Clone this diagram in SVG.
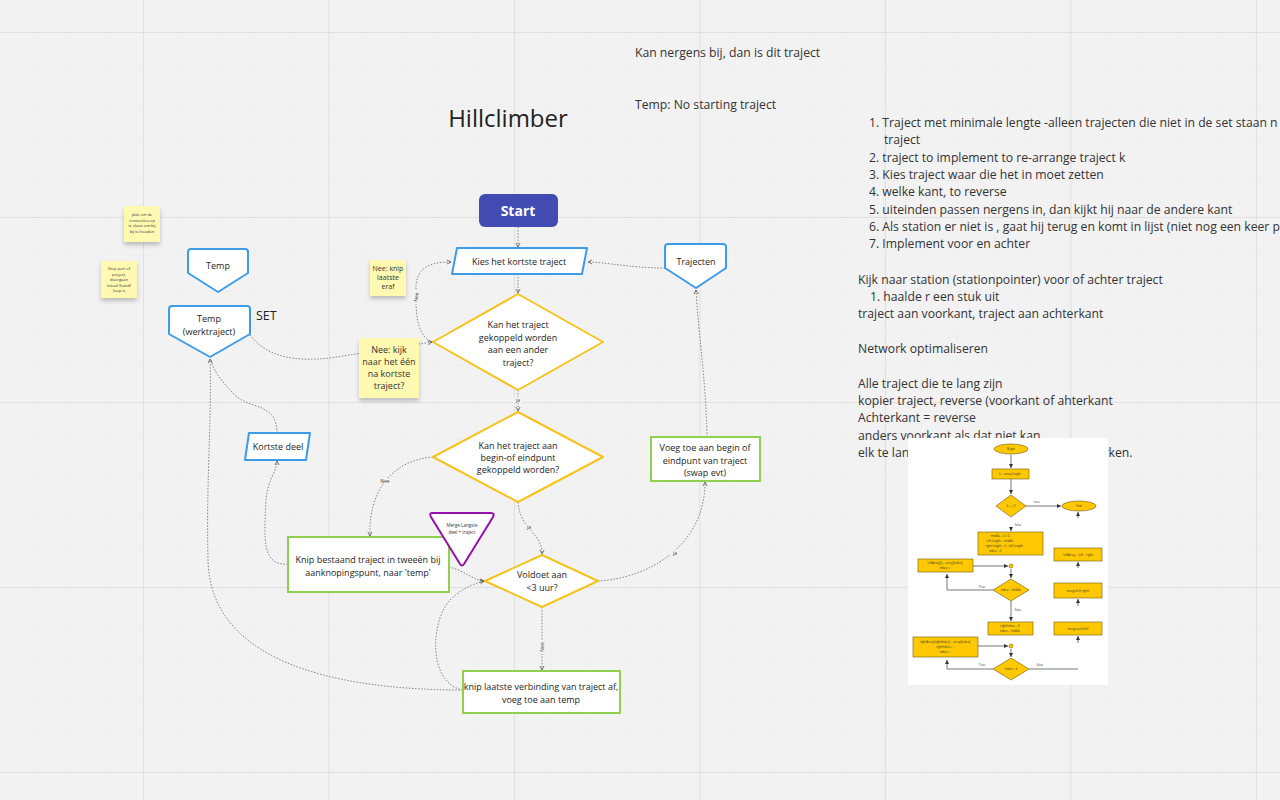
<svg xmlns="http://www.w3.org/2000/svg" width="1280" height="800" viewBox="0 0 1280 800">
<defs>
<style>
text{font-family:"Open Sans","Noto Sans","Liberation Sans",sans-serif;fill:#1e1e1e}
.t{font-size:9px;text-anchor:middle}
.note{font-size:12.2px;fill:#333}
.blue{fill:#fff;stroke:#3c9ce8;stroke-width:2;stroke-linejoin:round}
.yel{fill:#fff;stroke:#f6c31c;stroke-width:2;stroke-linejoin:round}
.grn{fill:#fff;stroke:#8fd14f;stroke-width:2}
.stk{fill:#fff9b1;filter:url(#sh)}
.st{text-anchor:middle;fill:#333}
.con path{fill:none;stroke:#666;stroke-width:0.8;stroke-dasharray:1.5 1.6}
.lbl{font-size:5px;text-anchor:middle;fill:#444}
.fc{fill:#ffc800;stroke:#6b5a10;stroke-width:0.6}
.fl{stroke:#555;stroke-width:0.8;fill:none}
.ft{font-size:3px;text-anchor:middle;fill:#333}
</style>
<marker id="a" viewBox="0 0 6 6" refX="5" refY="3" markerWidth="6" markerHeight="6" orient="auto" markerUnits="userSpaceOnUse"><path d="M1,1 L5,3 L1,5" fill="none" stroke="#555" stroke-width="0.8"/></marker>
<marker id="fa" viewBox="0 0 4 4" refX="4" refY="2" markerWidth="4" markerHeight="4" orient="auto" markerUnits="userSpaceOnUse"><path d="M0,0 L4,2 L0,4Z" fill="#333"/></marker>
<filter id="sh" x="-20%" y="-20%" width="140%" height="150%"><feDropShadow dx="0" dy="3" stdDeviation="2" flood-color="#000" flood-opacity="0.22"/></filter>
<pattern id="minor" x="32" y="32" width="37" height="37" patternUnits="userSpaceOnUse"><path d="M0,0 L37,0 M0,0 L0,37" stroke="#ebebeb" stroke-width="1" fill="none"/></pattern>
<pattern id="major" x="143" y="32" width="185.5" height="185" patternUnits="userSpaceOnUse"><path d="M0,0.5 L186,0.5 M0.5,0 L0.5,185" stroke="#e0e0e0" stroke-width="1" fill="none"/></pattern>
</defs>
<rect width="1280" height="800" fill="#f2f2f2"/>
<rect width="1280" height="800" fill="url(#minor)"/>
<rect width="1280" height="800" fill="url(#major)"/>

<g id="title"><text x="508" y="127" style="font-size:24px;text-anchor:middle;fill:#222">Hillclimber</text></g>
<g id="toptext">
<text class="note" x="635" y="57">Kan nergens bij, dan is dit traject</text>
<text class="note" x="635" y="109">Temp: No starting traject</text>
</g>

<g id="notes-right">
<text class="note" x="869" y="127">1. Traject met minimale lengte  -alleen trajecten die niet in de set staan n</text>
<text class="note" x="884" y="144">traject</text>
<text class="note" x="869" y="162">2. traject to implement to re-arrange traject k</text>
<text class="note" x="869" y="179">3. Kies traject waar die het in moet zetten</text>
<text class="note" x="869" y="196">4. welke kant, to reverse</text>
<text class="note" x="869" y="214">5. uiteinden passen nergens in, dan kijkt hij naar de andere kant</text>
<text class="note" x="869" y="231">6. Als station er niet is , gaat hij terug en komt in lijst (niet nog een keer p</text>
<text class="note" x="869" y="248">7. Implement voor en achter</text>
<text class="note" x="858" y="284">Kijk naar station (stationpointer) voor of achter traject</text>
<text class="note" x="870" y="301">1. haalde r een stuk uit</text>
<text class="note" x="858" y="318">traject aan voorkant, traject aan achterkant</text>
<text class="note" x="858" y="353">Network optimaliseren</text>
<text class="note" x="858" y="388">Alle traject die te lang zijn</text>
<text class="note" x="858" y="405">kopier traject, reverse (voorkant of ahterkant</text>
<text class="note" x="858" y="422">Achterkant = reverse</text>
<text class="note" x="858" y="440">anders voorkant als dat niet kan</text>
<text class="note" x="858" y="457">elk te lange traject opnieuw laten samenwerken.</text>
</g>

<g id="connectors" class="con">
<path d="M518,227 L518,247" marker-end="url(#a)"/>
<path d="M518,274 L518,293" marker-end="url(#a)"/>
<path d="M518,390 L518,411" marker-end="url(#a)"/>
<path d="M518,502 C520,530 542,532 542,554" marker-end="url(#a)"/>
<path d="M433,457 C392,460 368,492 370,536" marker-end="url(#a)"/>
<path d="M449,567 C466,571 472,580 484,581" marker-end="url(#a)"/>
<path d="M598,581 C650,578 705,545 705,482" marker-end="url(#a)"/>
<path d="M707,437 C706,380 698,330 696,290" marker-end="url(#a)"/>
<path d="M665,268 C630,268 605,262 588,262" marker-end="url(#a)"/>
<path d="M542,607 L542,670" marker-end="url(#a)"/>
<path d="M463,690 C330,690 210,660 208,560 C206,480 212,420 210,359" marker-end="url(#a)"/>
<path d="M463,690 C428,684 430,622 450,600 C460,590 472,584 484,581" marker-end="url(#a)"/>
<path d="M288,564 C262,566 264,540 266,500 C268,478 277,472 277,461" marker-end="url(#a)"/>
<path d="M277,433 C277,402 250,410 235,395 C222,382 214,372 211,360"/>
<path d="M250,335 C266,356 292,362 330,358 L432,342" marker-end="url(#a)"/>
<path d="M433,342 C414,336 416,305 416,285 C418,264 436,262 451,262" marker-end="url(#a)"/>
<g>
<rect x="513" y="397" width="10" height="6" fill="#f2f2f2"/><text class="lbl" x="518" y="402">ja</text>
<rect x="524" y="524" width="10" height="6" fill="#f2f2f2"/><text class="lbl" x="529" y="529">ja</text>
<rect x="378" y="478" width="14" height="6" fill="#f2f2f2"/><text class="lbl" x="385" y="483">Nee</text>
<rect x="670" y="550" width="10" height="6" fill="#f2f2f2"/><text class="lbl" x="675" y="555">ja</text>
<g transform="translate(542,647) rotate(-90)"><rect x="-7" y="-3" width="14" height="6" fill="#f2f2f2"/><text class="lbl" x="0" y="2">Nee</text></g>
<g transform="translate(416,297) rotate(-80)"><rect x="-7" y="-3" width="14" height="6" fill="#f2f2f2"/><text class="lbl" x="0" y="2">Nee</text></g>
</g>
</g>

<g id="start"><rect x="479" y="194" width="79" height="33" rx="6" fill="#414bb2"/><text x="518" y="216" style="font-size:14px;font-weight:bold;text-anchor:middle;fill:#fff">Start</text></g>
<g id="kies"><path class="blue" d="M457,248 L587,248 L582,274 L452,274 Z"/><text class="t" x="519" y="264.5">Kies het kortste traject</text></g>
<g id="d1"><path class="yel" d="M518,294 L603,342 L518,390 L433,342 Z"/>
<text class="t" x="518" y="328">Kan het traject</text><text class="t" x="518" y="341">gekoppeld worden</text><text class="t" x="518" y="353">aan een ander</text><text class="t" x="518" y="366">traject?</text></g>
<g id="d2"><path class="yel" d="M518,412 L603,457 L518,502 L433,457 Z"/>
<text class="t" x="518" y="449">Kan het traject aan</text><text class="t" x="518" y="461">begin-of eindpunt</text><text class="t" x="518" y="473">gekoppeld worden?</text></g>
<g id="d3"><path class="yel" d="M542,555 L598,581 L542,607 L485,581 Z"/>
<text class="t" x="542" y="578">Voldoet aan</text><text class="t" x="542" y="591">&lt;3 uur?</text></g>
<g id="knip-laatste"><rect class="grn" x="463" y="671" width="157" height="42"/>
<text class="t" x="541" y="690">knip laatste verbinding van traject af,</text><text class="t" x="541" y="703">voeg toe aan temp</text></g>
<g id="knip-bestaand"><rect class="grn" x="288" y="537" width="161" height="55"/>
<text class="t" x="368" y="563">Knip bestaand traject in tweeën bij</text><text class="t" x="368" y="576">aanknopingspunt, naar 'temp'</text></g>
<g id="voeg"><rect class="grn" x="651" y="437" width="109" height="44"/>
<text class="t" x="705" y="451">Voeg toe aan begin of</text><text class="t" x="705" y="464">eindpunt van traject</text><text class="t" x="705" y="476">(swap evt)</text></g>
<g id="trajecten"><path class="blue" d="M668,244 L723,244 Q726,244 726,247 L726,268 L696,288 L665,268 L665,247 Q665,244 668,244 Z"/><text class="t" x="696" y="265">Trajecten</text></g>
<g id="temp"><path class="blue" d="M191,249 L245,249 Q248,249 248,252 L248,273 L218,292 L188,273 L188,252 Q188,249 191,249 Z"/><text class="t" x="218" y="269">Temp</text></g>
<g id="temp-werk"><path class="blue" d="M172,306 L247,306 Q250,306 250,309 L250,334 L210,357 L169,334 L169,309 Q169,306 172,306 Z"/>
<text class="t" x="209" y="322">Temp</text><text class="t" x="209" y="335">(werktraject)</text></g>
<g id="set"><text x="256" y="320" style="font-size:12.5px;fill:#222">SET</text></g>
<g id="kortste"><path class="blue" d="M249,433 L310,433 L306,460 L245,460 Z"/><text class="t" x="278" y="450">Kortste deel</text></g>
<g id="merge"><path d="M432,513 L491,513 Q495,513 493,517 L464,564 Q462,567 460,564 L431,517 Q429,513 432,513 Z" fill="#fff" stroke="#9510ac" stroke-width="2"/>
<text x="462" y="527" style="font-size:4.5px;text-anchor:middle;fill:#333">Merge Langste</text><text x="462" y="534" style="font-size:4.5px;text-anchor:middle;fill:#333">deel + traject</text></g>

<g id="sticky1"><rect class="stk" x="124" y="206" width="36" height="36"/>
<text class="st" style="font-size:4px" x="142" y="216">plak om de</text><text class="st" style="font-size:4px" x="142" y="221.5">connecties op</text><text class="st" style="font-size:4px" x="142" y="227">te slaan om bij</text><text class="st" style="font-size:4px" x="142" y="232.5">bij te houden</text></g>
<g id="sticky2"><rect class="stk" x="101" y="261" width="36" height="37"/>
<text class="st" style="font-size:4px" x="119" y="270">Stop part of</text><text class="st" style="font-size:4px" x="119" y="275.5">project,</text><text class="st" style="font-size:4px" x="119" y="281">doorgaan</text><text class="st" style="font-size:4px" x="119" y="286.5">totaal (hand)</text><text class="st" style="font-size:4px" x="119" y="292">loop is</text></g>
<g id="sticky3"><rect class="stk" x="370" y="260" width="36" height="36"/>
<text class="st" style="font-size:7px" x="388" y="271">Nee: knip</text><text class="st" style="font-size:7px" x="388" y="280">laatste</text><text class="st" style="font-size:7px" x="388" y="289">eraf</text></g>
<g id="sticky4"><rect class="stk" x="359" y="338" width="60" height="60"/>
<text class="st" style="font-size:9px" x="389" y="353">Nee: kijk</text><text class="st" style="font-size:9px" x="389" y="365">naar het één</text><text class="st" style="font-size:9px" x="389" y="377">na kortste</text><text class="st" style="font-size:9px" x="389" y="389">traject?</text></g>

<g id="embedded-chart">
<rect x="908" y="438" width="200" height="247" fill="#fff"/>
<ellipse class="fc" cx="1011" cy="449" rx="17" ry="5"/><text class="ft" x="1011" y="450">Begin</text>
<path class="fl" d="M1011,455 L1011,468" marker-end="url(#fa)"/>
<rect class="fc" x="992" y="469" width="37" height="10"/><text class="ft" x="1010" y="475">k = array.length</text>
<path class="fl" d="M1011,479 L1011,494" marker-end="url(#fa)"/>
<path class="fc" d="M1011,495 L1026,506 L1011,517 L996,506 Z"/><text class="ft" x="1011" y="507">k == 0</text>
<path class="fl" d="M1026,506 L1061,506" marker-end="url(#fa)"/><text class="ft" x="1037" y="503">true</text>
<ellipse class="fc" cx="1079" cy="506" rx="17" ry="5"/><text class="ft" x="1079" y="507">End</text>
<path class="fl" d="M1078,518 L1078,512" marker-end="url(#fa)"/>
<text class="ft" x="1018" y="526">false</text>
<path class="fl" d="M1011,527 L1011,531" marker-end="url(#fa)"/>
<rect class="fc" x="978" y="532" width="65" height="23"/>
<text class="ft" x="1000" y="537">middle = k / 2</text><text class="ft" x="1000" y="542">left length = middle</text><text class="ft" x="1004" y="547">right length = k - left length</text><text class="ft" x="995" y="552">index = 0</text>
<rect class="fc" x="1054" y="548" width="48" height="13"/><text class="ft" x="1078" y="556">leftArray = left + right</text>
<path class="fl" d="M1078,568 L1078,562" marker-end="url(#fa)"/>
<rect class="fc" x="918" y="559" width="55" height="13"/><text class="ft" x="945" y="564">leftArray[i] = array[index]</text><text class="ft" x="945" y="569">index++</text>
<path class="fl" d="M973,566 L1008,566" marker-end="url(#fa)"/><circle cx="1011" cy="566" r="2" fill="#ffc800" stroke="#6b5a10" stroke-width="0.5"/>
<path class="fl" d="M1011,569 L1011,578" marker-end="url(#fa)"/>
<path class="fc" d="M1011,579 L1029,590 L1011,601 L993,590 Z"/><text class="ft" x="1011" y="591">index &lt; middle</text>
<path class="fl" d="M993,590 L947,590 L947,574" marker-end="url(#fa)"/><text class="ft" x="982" y="588">True</text>
<rect class="fc" x="1054" y="583" width="48" height="15"/><text class="ft" x="1078" y="592">merge(left,right)</text>
<path class="fl" d="M1078,606 L1078,599" marker-end="url(#fa)"/>
<text class="ft" x="1018" y="611">false</text>
<path class="fl" d="M1011,601 L1011,621" marker-end="url(#fa)"/>
<rect class="fc" x="988" y="622" width="45" height="13"/><text class="ft" x="1010" y="627">rightIndex = 0</text><text class="ft" x="1010" y="632">index = middle</text>
<rect class="fc" x="1054" y="622" width="48" height="13"/><text class="ft" x="1078" y="630">mergesort(left)</text>
<path class="fl" d="M1078,643 L1078,636" marker-end="url(#fa)"/>
<rect class="fc" x="913" y="637" width="65" height="20"/><text class="ft" x="945" y="643">rightArray[rightIndex] = array[index]</text><text class="ft" x="945" y="648">rightIndex++</text><text class="ft" x="945" y="653">index++</text>
<path class="fl" d="M978,646 L1008,646" marker-end="url(#fa)"/><circle cx="1011" cy="646" r="2" fill="#ffc800" stroke="#6b5a10" stroke-width="0.5"/>
<path class="fl" d="M1011,649 L1011,657" marker-end="url(#fa)"/>
<path class="fc" d="M1011,658 L1029,669 L1011,680 L993,669 Z"/><text class="ft" x="1011" y="670">index &lt; k</text>
<path class="fl" d="M993,669 L947,669 L947,660" marker-end="url(#fa)"/><text class="ft" x="982" y="666">True</text>
<path class="fl" d="M1029,669 L1078,669"/><text class="ft" x="1040" y="666">false</text>
</g>
</svg>
